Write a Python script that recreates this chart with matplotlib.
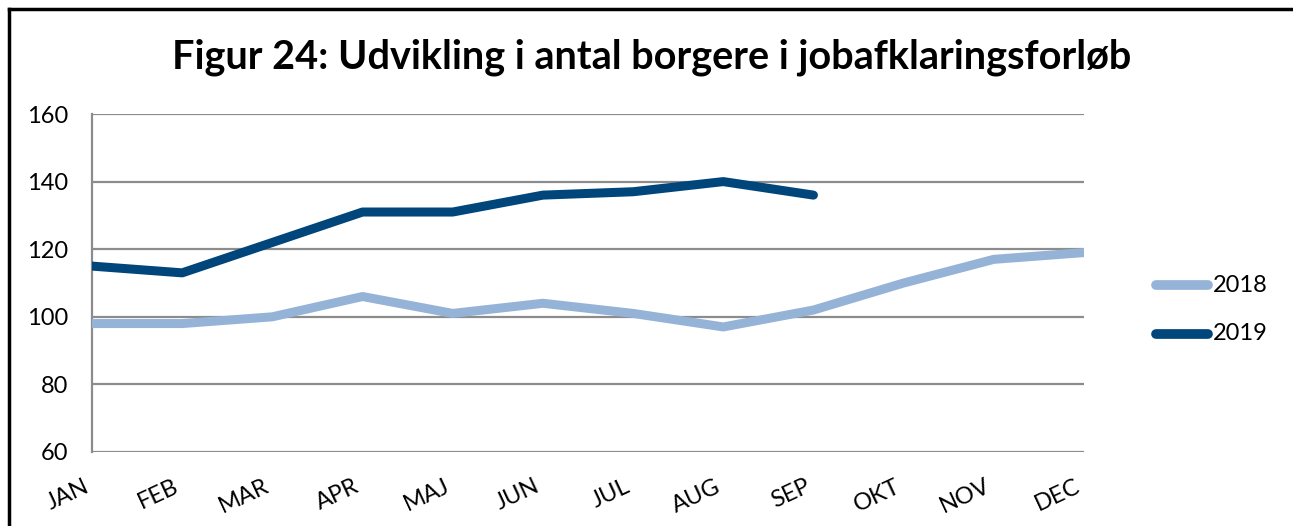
import matplotlib
matplotlib.use("Agg")
import matplotlib.pyplot as plt
from matplotlib.lines import Line2D

months = ["JAN", "FEB", "MAR", "APR", "MAJ", "JUN", "JUL", "AUG", "SEP", "OKT", "NOV", "DEC"]
values_2018 = [98, 98, 100, 106, 101, 104, 101, 97, 102, 110, 117, 119]
values_2019 = [115, 113, 122, 131, 131, 136, 137, 140, 136]
yticks = [60, 80, 100, 120, 140, 160]
series_names = ["2018", "2019"]
colors = ["#95B3D7", "#00467A"]

plt.rcParams['font.family'] = ['Lato', 'DejaVu Sans']

W, H = 1293, 526
fig = plt.figure(figsize=(W / 100, H / 100), dpi=100)
ax = fig.add_axes([92 / W, 1 - 452 / H, (1084 - 92) / W, (452 - 114) / H])

x = list(range(len(months)))
ax.plot(x, values_2018, color=colors[0], lw=6.5, solid_capstyle="round", solid_joinstyle="round", zorder=3)
ax.plot(x[:len(values_2019)], values_2019, color=colors[1], lw=6.5, solid_capstyle="round", solid_joinstyle="round", zorder=4)

ax.set_xlim(0, len(months) - 1)
ax.set_ylim(60, 160)
ax.set_yticks(yticks)
ax.set_yticklabels([str(v) for v in yticks], fontsize=17)
ax.set_xticks(x)
ax.set_xticklabels(months, fontsize=17, rotation=25, ha="right", va="top")
ax.tick_params(axis="both", length=0)
ax.tick_params(axis="y", pad=17)
ax.tick_params(axis="x", pad=17)
ax.grid(axis="y", color="#8C8C8C", lw=1.6)
ax.set_axisbelow(True)
for s in ["top", "right", "bottom"]:
    ax.spines[s].set_visible(False)
ax.spines["left"].set_color("#8C8C8C")
ax.spines["left"].set_linewidth(1.6)
ax.patch.set_alpha(0)

# legend drawn manually to match layout
for i, (name, c) in enumerate(zip(series_names, colors)):
    yy = 1 - (285 + i * 49) / H
    fig.add_artist(Line2D([1156 / W, 1208 / W], [yy, yy], color=c, lw=7,
                          solid_capstyle="round", transform=fig.transFigure))
    fig.text(1213 / W, yy, name, ha="left", va="center", fontsize=17)

fig.text(652 / W, 1 - 57 / H, "Figur 24: Udvikling i antal borgere i jobafklaringsforløb",
         ha="center", va="center", fontsize=28.5, fontweight="bold")

# figure border (top and left)
fig.add_artist(Line2D([9 / W, 1], [1 - 9 / H, 1 - 9 / H], color="black", lw=2.5, transform=fig.transFigure))
fig.add_artist(Line2D([9 / W, 9 / W], [0, 1 - 9 / H], color="black", lw=2.5, transform=fig.transFigure))

fig.savefig("out.png", dpi=100)
